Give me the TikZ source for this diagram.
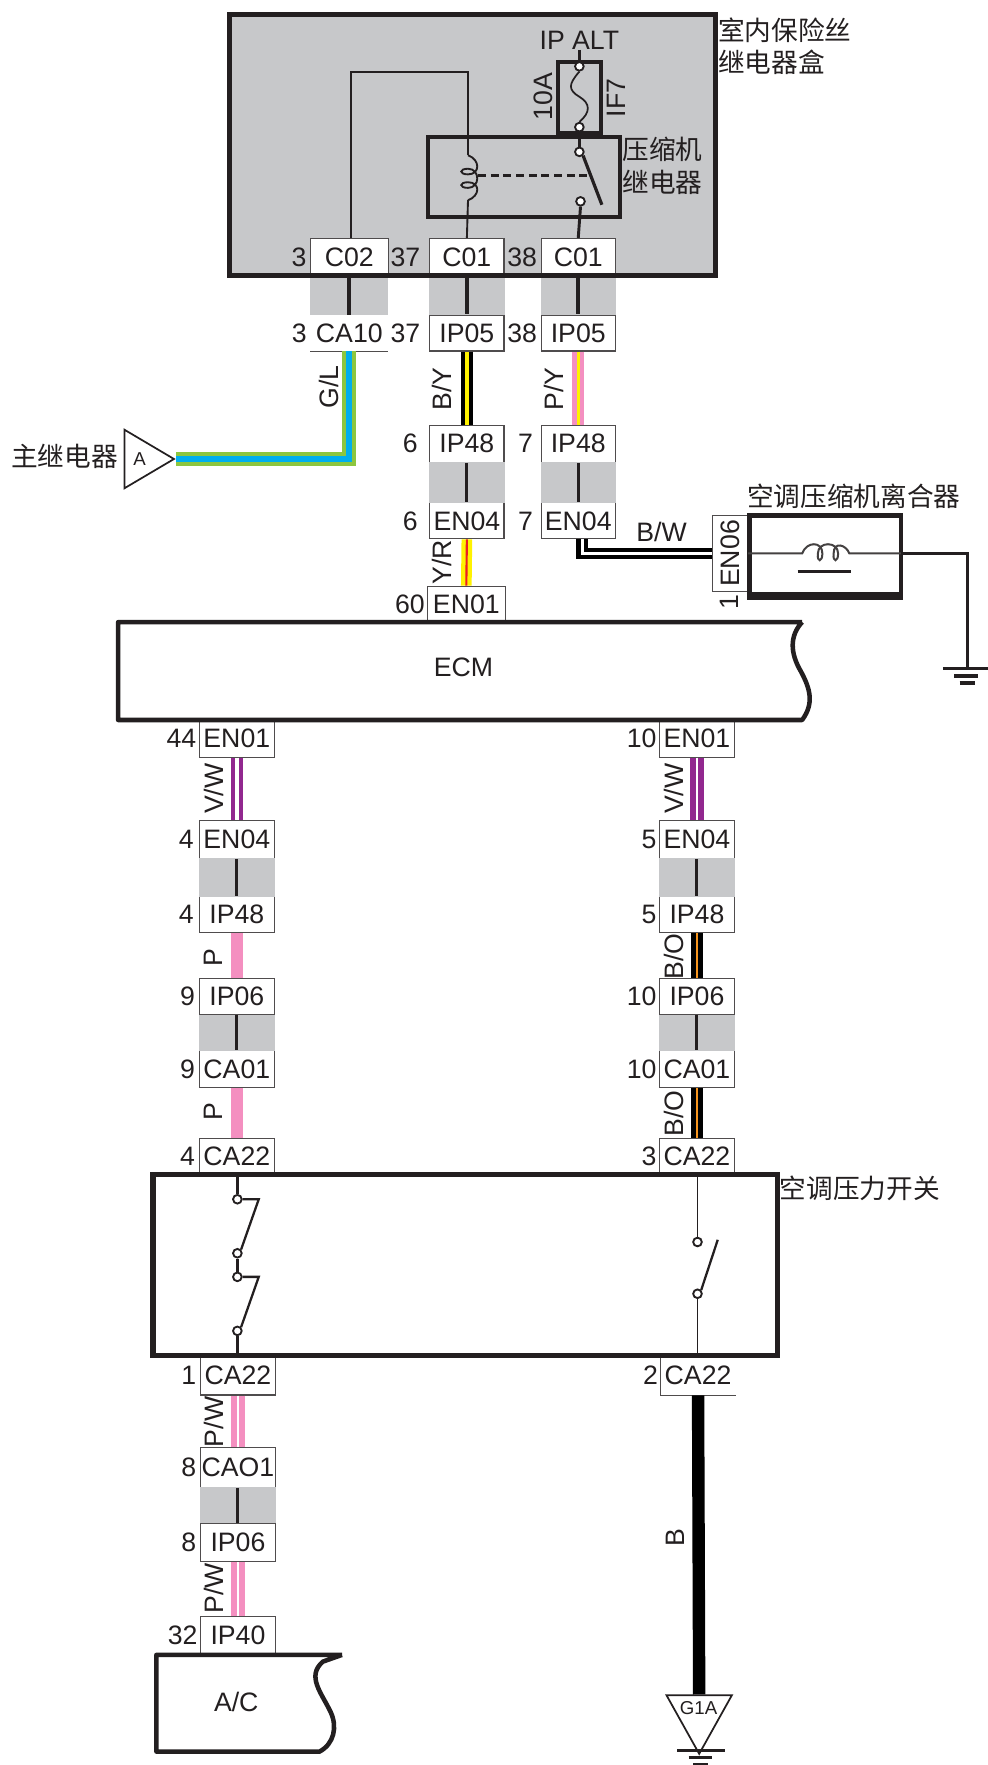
\documentclass[tikz,border=0pt]{standalone}
\usepackage{fontspec}
\setmainfont{Liberation Sans}
\newfontfamily\cjk{Noto Sans CJK SC}
\usetikzlibrary{shapes.geometric}
\definecolor{ink}{HTML}{231F20}
\definecolor{panelgrey}{HTML}{C7C8CA}
\definecolor{wgreen}{HTML}{8DC63F}
\definecolor{wblue}{HTML}{00AEEF}
\definecolor{wpink}{HTML}{F48FC0}
\definecolor{wyellow}{HTML}{FFF200}
\definecolor{wred}{HTML}{ED1C24}
\definecolor{wpurple}{HTML}{92278F}
\definecolor{worange}{HTML}{F7941D}
\tikzset{
  txt/.style={font=\fontsize{20}{22}\selectfont,text=ink,inner sep=0pt},
  cn/.style={font=\fontsize{20}{22}\cjk\selectfont,text=ink,inner sep=0pt,anchor=west},
  numlab/.style={txt,anchor=east,xshift=-1.5pt},
  connbox/.style={txt,draw=ink!80,line width=.8pt,fill=white,inner sep=0pt},
  bare/.style={txt,fill=white,inner sep=0pt},
  heavy/.style={draw=ink,line width=3.4pt},
  thin wire/.style={draw=ink,line width=1.7pt},
  bridge/.style={draw=ink,line width=2.2pt},
  bridge top/.style={draw=ink,line width=3pt},
  contact/.style={circle,draw=ink,fill=white,line width=1.4pt,minimum size=6.5pt,inner sep=0pt},
  wGL/.style={draw=wgreen,double=wblue,line width=3pt,double distance=4.6pt},
  wBY/.style={draw=black,double=wyellow,line width=3.4pt,double distance=2.5pt},
  wPY/.style={draw=wpink,double=wyellow,line width=3.4pt,double distance=2.5pt},
  wYR/.style={draw=wyellow,double=wred,line width=3.2pt,double distance=1.6pt},
  wBW/.style={draw=black,double=white,line width=3.4pt,double distance=2pt},
  wVWa/.style={draw=wpurple,double=white,line width=3pt,double distance=3.4pt},
  wVWb/.style={draw=wpurple,double=white,line width=4.4pt,double distance=1.7pt},
  wBO/.style={draw=black,double=worange,line width=3.5pt,double distance=1.9pt},
  wPW/.style={draw=wpink,double=white,line width=4.5pt,double distance=1.7pt},
  wP/.style={draw=wpink,line width=9.3pt},
  wB/.style={draw=black,line width=9.3pt},
  gnd/.style={draw=ink,line width=2.2pt},
}
\newcommand{\conn}[8][connbox]{%
  \node[#1,minimum width={(#4-#3)*0.84375pt},minimum height={(#6-#5)*0.84375pt},
    label={[numlab]left:#8}] (#2) at ({(#3+#4)/2},{(#5+#6)/2}) {#7};}
\begin{document}
\begin{tikzpicture}[x=0.84375pt,y=-0.84375pt]
\useasboundingbox (0,0) rectangle (878.2,1568.9);
% grey panel of the fuse box
\fill[panelgrey] (204,13) rectangle (636,245);
% connectors, top group
\conn{cz}{276}{345}{212}{245}{C02}{3\kern1pt}
\conn{ca}{382}{448}{212}{245}{C01}{37\kern5pt}
\conn{cb}{481}{547}{212}{245}{C01}{38\kern1pt}
\conn[bare]{caten}{276}{345}{280}{312}{CA10}{3\kern1pt}
\conn{ipa}{382}{448}{280}{312}{IP05}{37\kern5pt}
\conn{ipb}{481}{547}{280}{312}{IP05}{38\kern1pt}
\draw[ink!80,line width=.8pt] (caten.south west) -- (caten.south east);
\conn{ipca}{382}{448}{378}{411}{IP48}{6\kern7pt}
\conn{ipcb}{481}{547}{378}{411}{IP48}{7\kern4pt}
\conn{ena}{382}{448}{447}{479}{EN04}{6\kern7pt}
\conn{enb}{481}{547}{447}{479}{EN04}{7\kern4pt}
\conn{ensixty}{380}{449}{521}{553}{EN01}{60}
\node[connbox,rotate=90,minimum width=67*0.84375pt,minimum height=32*0.84375pt] (enclutch) at (649,492) {EN06};
\node[txt,rotate=90] (clutchnum) at (648,535) {1};
% left column
\conn{la}{177}{244}{640}{673}{EN01}{44}
\conn{lb}{177}{244}{729}{763}{EN04}{4\kern2pt}
\conn{lc}{177}{244}{797}{829}{IP48}{4\kern2pt}
\conn{ld}{177}{244}{870}{902}{IP06}{9\kern1pt}
\conn{le}{177}{244}{934}{967}{CA01}{9\kern1pt}
\conn{lf}{177}{244}{1012}{1043}{CA22}{4\kern1pt}
\conn{lg}{178}{245}{1205}{1240}{CA22}{1\kern1pt}
\conn{lh}{178}{245}{1287}{1322}{CAO1}{8\kern1pt}
\conn{li}{178}{245}{1354}{1388}{IP06}{8\kern1pt}
\conn{lj}{178}{245}{1437}{1471}{IP40}{32}
% right column
\conn{ra}{586}{653}{640}{673}{EN01}{10}
\conn{rb}{586}{653}{729}{763}{EN04}{5}
\conn{rc}{586}{653}{797}{829}{IP48}{5}
\conn{rd}{586}{653}{870}{902}{IP06}{10}
\conn{re}{586}{653}{934}{967}{CA01}{10}
\conn{rf}{586}{653}{1012}{1043}{CA22}{3}
\conn[bare]{rg}{587}{654}{1205}{1240}{CA22}{2}
\draw[ink!80,line width=.8pt] (rg.north west) -- (rg.south west) -- (rg.south east);
% grey bridges between mating connectors
\foreach \a/\b in {cz/caten,ca/ipa,cb/ipb,ipca/ena,ipcb/enb,lb/lc,ld/le,rb/rc,rd/re,lh/li}
  \fill[panelgrey] ([yshift=.4pt]\a.south west) rectangle ([yshift=-.4pt]\b.north east);
\foreach \a/\b in {cz/caten,ca/ipa,cb/ipb}
  \draw[bridge top] (\a.south) -- (\b.north);
\foreach \a/\b in {ipca/ena,ipcb/enb,lb/lc,ld/le,rb/rc,rd/re,lh/li}
  \draw[bridge] (\a.south) -- (\b.north);
% wires
\node[draw=ink,line width=1.3pt,fill=white,isosceles triangle,isosceles triangle apex angle=61,
  isosceles triangle stretches,minimum width=52*0.84375pt,minimum height=44*0.84375pt,inner sep=0pt] (trimain) at (125.5,408) {};
\node[txt,font=\fontsize{14}{16}\selectfont] (trimaintxt) at (124,408) {A};
\draw[wGL] (caten.south) |- (trimain.apex);
\draw[wBY] (ipa.south) -- (ipca.north);
\draw[wPY] (ipb.south) -- (ipcb.north);
\draw[wYR] (ena.south) -- (ensixty.north);
\draw[wBW] ([xshift=3pt]enb.south) |- (enclutch.north);
\draw[wVWa] (la.south) -- (lb.north);
\draw[wVWb] (ra.south) -- (rb.north);
\draw[wP] (lc.south) -- (ld.north);
\draw[wP] (le.south) -- (lf.north);
\draw[wBO] (rc.south) -- (rd.north);
\draw[wBO] (re.south) -- (rf.north);
\draw[wPW] (lg.south) -- (lh.north);
\draw[wPW] (li.south) -- (lj.north);
\node[draw=ink,line width=1.3pt,fill=white,isosceles triangle,shape border rotate=-90,isosceles triangle apex angle=56,
  isosceles triangle stretches,minimum width=58*0.84375pt,minimum height=52*0.84375pt,inner sep=0pt] (trignd) at (621.5,1524) {};
\node[txt,font=\fontsize{14}{16}\selectfont] (trigndtxt) at (621,1518) {G1A};
\draw[wB] (rg.south) -- (trignd.north);
% wire labels
\node[txt,rotate=90] (lGL) at (292,344) {G/L};
\node[txt,rotate=90] (lBY) at (393,346) {B/Y};
\node[txt,rotate=90] (lPY) at (492,346) {P/Y};
\node[txt,rotate=90] (lYR) at (393,500) {Y/R};
\node[txt] (lBW) at (588,473) {B/W};
\node[txt,rotate=90] (lVa) at (190,701) {V/W};
\node[txt,rotate=90] (lVb) at (599,701) {V/W};
\node[txt,rotate=90] (lPa) at (190,851) {P};
\node[txt,rotate=90] (lPb) at (190,988) {P};
\node[txt,rotate=90] (lBOa) at (599,850) {B/O};
\node[txt,rotate=90] (lBOb) at (599,990) {B/O};
\node[txt,rotate=90] (lPWa) at (190,1264) {P/W};
\node[txt,rotate=90] (lPWb) at (190,1412) {P/W};
\node[txt,rotate=90] (lB) at (600,1367) {B};
% fuse box contents
\node[draw=ink,line width=2.8pt,minimum width=38*0.84375pt,minimum height=63*0.84375pt] (fuse) at (515,86.5) {};
\node[txt] (ipalt) at (515,36) {IP ALT};
\node[txt,rotate=90] (tenA) at (483,86) {10A};
\node[txt,rotate=90] (ifseven) at (548,87) {IF7};
\node[contact] (fa) at (515,59) {};
\node[contact] (fb) at (515,113) {};
\draw[thin wire] (ipalt.south) -- (fa.north);
\draw[draw=ink,line width=1.3pt] (fa.south) .. controls (505,75) and (505,80) .. (515,86) .. controls (525,92) and (525,100) .. (fb.north);
\node[draw=ink,line width=3pt,minimum width=171*0.84375pt,minimum height=71*0.84375pt] (relay) at (466,157.5) {};
\node[contact] (ra1) at (515,135) {};
\node[contact] (ra2) at (516,179) {};
\draw[thin wire] (fb.south) -- (ra1.north);
\draw[thin wire,line width=2.2pt] (ra2.south) -- (cb.north);
\coordinate (bladeend) at (535,182);
\draw[draw=ink,line width=2.4pt] (ra1.south east) -- (bladeend);
\coordinate (wa) at (312,64);
\coordinate (wb) at (416,64);
\coordinate (coiltop) at (416,138);
\coordinate (coilbot) at (416,178);
\draw[draw=ink,line width=1.4pt] (cz.north-|wa) -- (wa) -- (wb) -- (coiltop);
\draw[draw=ink,line width=1.4pt] (coilbot) -- (ca.north);
\draw[draw=ink,line width=1.4pt] (coiltop)
  .. controls (427,142) and (427,155) .. (416,155)
  .. controls (408,155) and (408,150) .. (416,150)
  .. controls (427,150) and (427,167) .. (416,167)
  .. controls (408,167) and (408,162) .. (416,162)
  .. controls (427,162) and (427,174) .. (coilbot);
\coordinate (dasha) at (425,156);
\coordinate (dashb) at (526,156);
\draw[draw=ink,line width=2.8pt,dash pattern=on 6pt off 3.5pt] (dasha) -- (dashb);
\node[cn] (t1) at (638,27) {室内保险丝};
\node[cn] (t2) at (638,55) {继电器盒};
\node[cn] (t3) at (553,133) {压缩机};
\node[cn] (t4) at (553,162) {继电器};
\node[cn,anchor=east] (t5) at (105,406) {主继电器};
\node[cn,anchor=center] (t6) at (759,441) {空调压缩机离合器};
\node[cn] (t7) at (693,1056) {空调压力开关};
% clutch
\node[draw=ink,line width=3.4pt,minimum width=135*0.84375pt,minimum height=70*0.84375pt] (clutch) at (733.5,493) {};
\draw[draw=ink,line width=5pt] (clutch.south west) -- (clutch.south east);
\coordinate (cl) at (713,492);
\coordinate (cr) at (755,492);
\coordinate (clin) at (665,492);
\coordinate (crin) at (801,492);
\draw[draw=ink!85,line width=1.5pt] (clin) -- (cl)
  .. controls (717,481) and (731,481) .. (731,492)
  .. controls (731,500) and (726,500) .. (727,492)
  .. controls (727,481) and (745,481) .. (745,492)
  .. controls (745,500) and (740,500) .. (741,492)
  .. controls (741,481) and (752,484) .. (cr) -- (crin);
\coordinate (cba) at (709,508);
\coordinate (cbb) at (756,508);
\draw[draw=ink,line width=1.6pt] (cba) -- (cbb);
\coordinate (ga) at (860,594);
\draw[draw=ink,line width=2.4pt] (crin) -| (ga);
\draw[gnd] (838,594) -- (878,594);
\draw[draw=ink,line width=2.8pt] (848,601) -- (869,601);
\draw[draw=ink,line width=3pt] (853,607) -- (867,607);
% ECM
\draw[heavy,line join=round] (713,553) -- (105,553) -- (105,640) -- (713,640)
  .. controls (724,625) and (720,612) .. (712,597) .. controls (702,580) and (702,565) .. (713,553);
\node[txt] (ecm) at (412,593) {ECM};
% pressure switch
\node[draw=ink,line width=4pt,minimum width=555*0.84375pt,minimum height=161*0.84375pt] (sw) at (413.5,1124.5) {};
\coordinate (swla) at (211,1044);
\coordinate (swlb) at (211,1205);
\coordinate (swra) at (620,1044);
\coordinate (swrb) at (620,1205);
\node[contact] (k1) at (211,1066) {};
\node[contact] (k2) at (211,1114) {};
\node[contact] (k3) at (211,1135) {};
\node[contact] (k4) at (211,1183) {};
\node[contact] (k5) at (620,1104) {};
\node[contact] (k6) at (620,1150) {};
\coordinate (kb1) at (230,1066);
\coordinate (kb2) at (230,1135);
\coordinate (kb3) at (638,1102);
\draw[thin wire,line width=2.4pt] (swla) -- (k1.north);
\draw[thin wire] (k1.east) -- (kb1) -- (k2.north east);
\draw[thin wire] (k2.south) -- (k3.north);
\draw[thin wire] (k3.east) -- (kb2) -- (k4.north east);
\draw[thin wire,line width=2.4pt] (k4.south) -- (swlb);
\draw[thin wire,line width=1.4pt] (swra) -- (k5.north);
\draw[thin wire,line width=1.4pt] (k6.south) -- (swrb);
\draw[thin wire] (k6.north east) -- (kb3);
% A/C
\draw[heavy,line join=round] (304,1471) -- (139,1471) -- (139,1557) -- (284,1557)
  .. controls (297,1550) and (300,1535) .. (294,1522) .. controls (286,1505) and (272,1490) .. (287,1477) -- (304,1471);
\node[txt] (acm) at (210,1513) {A/C};
% grounds below G1A
\draw[gnd] (602,1556) -- (644,1556);
\draw[draw=ink,line width=2.6pt] (612,1562) -- (633,1562);
\draw[gnd] (616,1568) -- (629,1568);
% fuse box outline on top
\draw[heavy,line width=3.6pt] (204,13) rectangle (636,245);
\end{tikzpicture}
\end{document}
